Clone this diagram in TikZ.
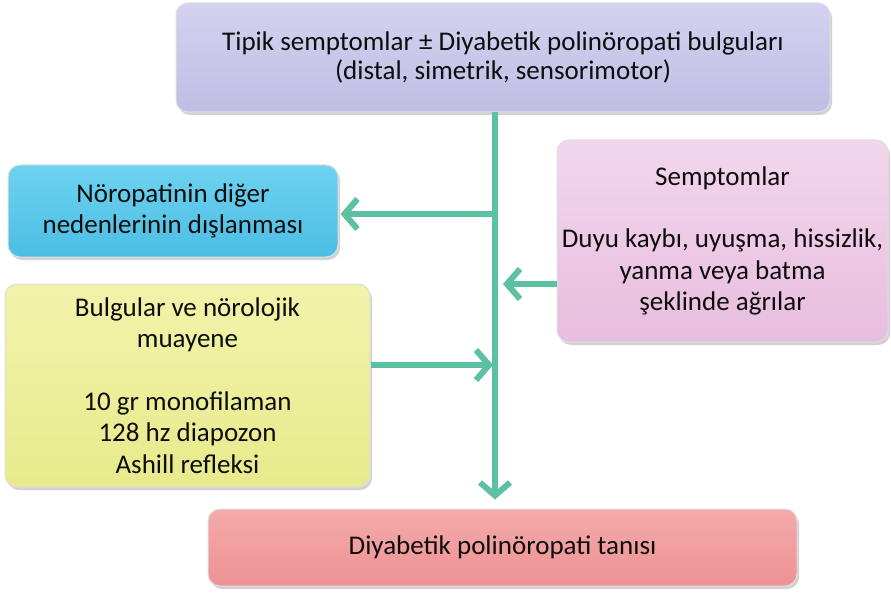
\documentclass[tikz,border=0pt]{standalone}
\usepackage{fontspec}
\setmainfont{Carlito}
\usetikzlibrary{arrows.meta,shadows}
\definecolor{link}{RGB}{92,192,162}
\begin{document}
\begin{tikzpicture}[x=1pt,y=-1pt,
  box/.style={rounded corners=12pt, draw=gray!25, line width=1pt, align=center,
    font=\fontsize{27}{31.5}\selectfont, text=black!95, inner sep=0pt,
    drop shadow={opacity=0.35, shadow xshift=2pt, shadow yshift=-3pt}},
  link/.style={draw=link, line width=6pt,
    -{Straight Barb[length=13pt,width=30pt,line width=6pt]}}]
\useasboundingbox[fill=white] (0,0) rectangle (891,596);
\node[box, minimum width=654pt, minimum height=109pt,
  top color={rgb,255:red,212;green,210;blue,240}, bottom color={rgb,255:red,192;green,189;blue,228}]
  (top) at (503,57.5)
  {Tipik semptomlar ± Diyabetik polinöropati bulguları\\[-2pt](distal, simetrik, sensorimotor)};
\node[box, minimum width=330pt, minimum height=92pt,
  top color={rgb,255:red,110;green,210;blue,240}, bottom color={rgb,255:red,75;green,190;blue,228}]
  (blue) at (173,211) {Nöropatinin diğer\\nedenlerinin dışlanması};
\node[box, minimum width=331pt, minimum height=202pt,
  top color={rgb,255:red,242;green,214;blue,236}, bottom color={rgb,255:red,232;green,190;blue,222}]
  (pink) at (722.5,241) {Semptomlar\\[31pt]Duyu kaybı, uyuşma, hissizlik,\\yanma veya batma\\şeklinde ağrılar};
\node[box, minimum width=365pt, minimum height=203pt,
  top color={rgb,255:red,242;green,243;blue,170}, bottom color={rgb,255:red,232;green,234;blue,140}]
  (yel) at (187.5,385.5) {Bulgular ve nörolojik\\muayene\\[31pt]10 gr monofilaman\\128 hz diapozon\\Ashill refleksi};
\node[box, minimum width=589pt, minimum height=77pt,
  top color={rgb,255:red,245;green,170;blue,170}, bottom color={rgb,255:red,238;green,145;blue,148}]
  (bot) at (502.5,547.5) {Diyabetik polinöropati tanısı};
\coordinate (j1) at (495,214);
\coordinate (j2) at (495,284);
\coordinate (j3) at (495,365);
\draw[link, shorten >=9pt] (top.south -| j1) -- (bot.north -| j1);
\draw[link, shorten >=2pt, shorten <=-3pt] (j1) -- (blue.east |- j1);
\draw[link, shorten >=8pt] (pink.west |- j2) -- (j2);
\draw[link, shorten >=2pt] (yel.east |- j3) -- (j3);
\end{tikzpicture}
\end{document}
